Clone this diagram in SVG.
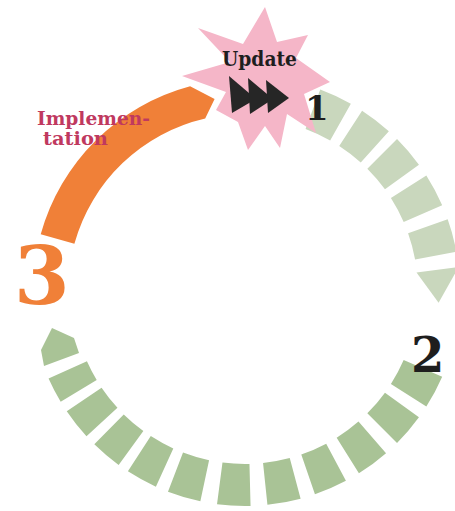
<svg xmlns="http://www.w3.org/2000/svg" width="455" height="511" viewBox="0 0 455 511">
  <style>
    .ring { fill: none; stroke-width: 42; }
    .g-light { stroke: #c9d7bd; }
    .g-dark { stroke: #a9c396; }
    .gl { fill: #c9d7bd; }
    .gd { fill: #a9c396; }
    .orange { fill: #f08038; }
    .star { fill: #f5b6c8; }
    .play { fill: #262626; }
    .num { font-family: "DejaVu Serif", "Liberation Serif", serif; font-weight: bold; }
    .lbl { font-family: "DejaVu Serif", "Liberation Serif", serif; font-weight: bold; }
  </style>
  <rect width="455" height="511" fill="#ffffff"/>

  <g id="connectors">
    <!-- upper arc: 1 to 2 -->
    <circle class="ring g-light" cx="245" cy="291" r="194" pathLength="360"
            stroke-dasharray="9 3.5 9 3 9 3.5 9 4 9 330" stroke-dashoffset="-290.5"/>
    <polygon class="gl" points="416.5,272.5 458.6,267 438.6,302.8"/>
    <!-- lower arc: 2 to 3 -->
    <circle class="ring g-dark" cx="245" cy="291" r="194" pathLength="360"
            stroke-dasharray="9 3.5 9 4 9 4 9 4 9 4.5 9 4.5 9 3.5 8.5 3 8.5 3 8.5 3 7 240" stroke-dashoffset="-23.5"/>
    <polygon class="gd" points="44,366 79,353 74,338 52,328 41,350"/>
  </g>

  <g id="node-update">
    <polygon class="star" points="265,7 277,42 308,35 296,58 330,82 304,94 316,133 287,114 280,148 265,126 248,150 238,122 216,110 226,92 182,76 230,62 198,28 243,44"/>
    <text class="lbl" x="222" y="66" font-size="21" textLength="75" lengthAdjust="spacingAndGlyphs" fill="#1e1e1e">Update</text>
    <polygon class="play" points="229,76 256,99 232,113"/>
    <polygon class="play" points="248,78 273,99 250,114"/>
    <polygon class="play" points="266,80 289,98 268,113"/>
    <text class="num" x="305" y="120" font-size="34" fill="#1e1e1e">1</text>
  </g>

  <g id="connector-orange">
    <path class="orange" d="M40.7,234.3 A212,212 0 0 1 190.1,86.2 L214.6,98.9 L205.2,118.5 A177,177 0 0 0 74.4,243.7 Z"/>
  </g>

  <g id="node-3">
    <text class="lbl" x="37" y="125" font-size="19" textLength="113" lengthAdjust="spacingAndGlyphs" fill="#c0395f">Implemen-</text>
    <text class="lbl" x="43" y="145" font-size="19" textLength="65" lengthAdjust="spacingAndGlyphs" fill="#c0395f">tation</text>
    <text class="num" x="14" y="304" font-size="80" fill="#f08038">3</text>
  </g>

  <g id="node-2">
    <text class="num" x="411" y="372" font-size="48" fill="#1e1e1e">2</text>
  </g>
</svg>
